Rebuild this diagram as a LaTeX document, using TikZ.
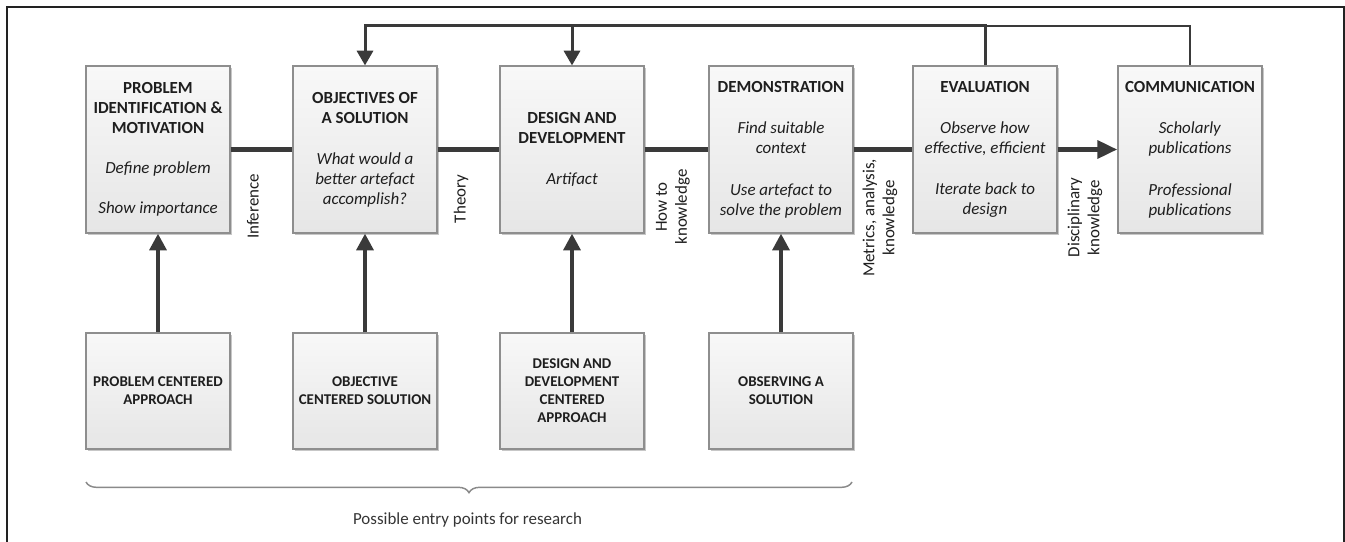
\documentclass[tikz,border=0pt]{standalone}
\usepackage{fontspec}
\setmainfont{Carlito}
\usetikzlibrary{arrows.meta,shadows,decorations.pathreplacing}
\definecolor{ln}{HTML}{3A3A3A}
\definecolor{boxdraw}{HTML}{8E8E8E}
\definecolor{boxtop}{HTML}{F8F8F8}
\definecolor{boxbot}{HTML}{E6E6E6}
\definecolor{txt}{HTML}{1E1E1E}
\definecolor{bracecol}{HTML}{8A8A8A}
\definecolor{framecol}{HTML}{222222}
\begin{document}
\begin{tikzpicture}[x=0.75pt,y=-0.75pt,
  boxbase/.style={draw=boxdraw, line width=0.9pt, top color=boxtop, bottom color=boxbot,
    drop shadow={shadow xshift=1.2pt, shadow yshift=-1.2pt, fill=black, opacity=0.22},
    minimum width=108pt, inner sep=0pt, align=center, text=txt},
  topbox/.style={boxbase, minimum height=125.25pt, font=\fontsize{12.7}{15}\selectfont},
  botbox/.style={boxbase, minimum height=87pt, font=\bfseries\fontsize{11.2}{13.5}\selectfont},
  mainln/.style={draw=ln, line width=3.75pt},
  upln/.style={draw=ln, line width=3pt, -{Triangle[length=12.5pt,width=12.5pt]}},
  fbln/.style={draw=ln, line width=2.25pt},
  fbthin/.style={draw=ln, line width=1.5pt},
  fbarr/.style={-{Triangle[length=11pt,width=12pt]}},
  sidelabel/.style={rotate=90, align=center, inner sep=0pt, text=txt, font=\fontsize{12.7}{15}\selectfont},
  bracestyle/.style={draw=bracecol, line width=1.1pt, decorate, decoration={brace, amplitude=8pt, mirror}}
]
\useasboundingbox (0,0) rectangle (1345,542);
\fill[white] (0,0) rectangle (1345,542);
% frame
\draw[framecol, line width=1.5pt] (7,545) -- (7,7) -- (1344,7) -- (1344,545);

% top boxes
\node[topbox] (p1) at (158,149.5) {\textbf{PROBLEM}\\\textbf{IDENTIFICATION \&}\\\textbf{MOTIVATION}\\[15pt]\textit{Define problem}\\[15pt]\textit{Show importance}};
\node[topbox] (p2) at (365,149.5) {\textbf{OBJECTIVES OF}\\\textbf{A SOLUTION}\\[16pt]\textit{What would a}\\\textit{better artefact}\\\textit{accomplish?}};
\node[topbox] (p3) at (572,149.5) {\textbf{DESIGN AND}\\\textbf{DEVELOPMENT}\\[16pt]\textit{Artifact}};
\node[topbox] (p4) at (781,149.5) {\textbf{DEMONSTRATION}\\[16pt]\textit{Find suitable}\\\textit{context}\\[16pt]\textit{Use artefact to}\\\textit{solve the problem}};
\node[topbox] (p5) at (985,149.5) {\textbf{EVALUATION}\\[16pt]\textit{Observe how}\\\textit{effective, efficient}\\[16pt]\textit{Iterate back to}\\\textit{design}};
\node[topbox] (p6) at (1190,149.5) {\textbf{COMMUNICATION}\\[16pt]\textit{Scholarly}\\\textit{publications}\\[16pt]\textit{Professional}\\\textit{publications}};

% bottom boxes
\node[botbox] (b1) at (158,391) {PROBLEM CENTERED\\APPROACH};
\node[botbox] (b2) at (365,391) {OBJECTIVE\\CENTERED SOLUTION};
\node[botbox] (b3) at (572,391) {DESIGN AND\\DEVELOPMENT\\CENTERED\\APPROACH};
\node[botbox] (b4) at (781,391) {OBSERVING A\\SOLUTION};

% horizontal process connectors
\draw[mainln] (p1.east) -- (p2.west);
\draw[mainln] (p2.east) -- (p3.west);
\draw[mainln] (p3.east) -- (p4.west);
\draw[mainln] (p4.east) -- (p5.west);
\draw[mainln, -{Triangle[length=15pt,width=13pt]}] (p5.east) -- (p6.west);

% entry arrows
\draw[upln] (b1.north) -- (p1.south);
\draw[upln] (b2.north) -- (p2.south);
\draw[upln] (b3.north) -- (p3.south);
\draw[upln] (b4.north) -- (p4.south);

% feedback loop
\coordinate (top) at (0,26);
\draw[fbthin] (p6.north) |- (p5.north |- top);
\draw[fbln, fbarr] (p5.north) -- (p5.north |- top) -| (p2.north);
\draw[fbln, fbarr] (p3.north |- top) -- (p3.north);

% side labels
\node[sidelabel] (l1) at (253,206.5) {Inference};
\node[sidelabel] (l2) at (461,199) {Theory};
\node[sidelabel] (l3) at (673,207) {How to\\knowledge};
\node[sidelabel] (l4) at (880,218) {Metrics, analysis,\\knowledge};
\node[sidelabel] (l5) at (1085,217.5) {Disciplinary\\knowledge};

% brace and caption
\coordinate (bl) at (86,482);
\coordinate (br) at (852,482);
\draw[bracestyle] (bl) -- (br);
\node[font=\fontsize{12.7}{15}\selectfont, text=txt!90] (cap) at (467.5,520) {Possible entry points for research};
\end{tikzpicture}
\end{document}
